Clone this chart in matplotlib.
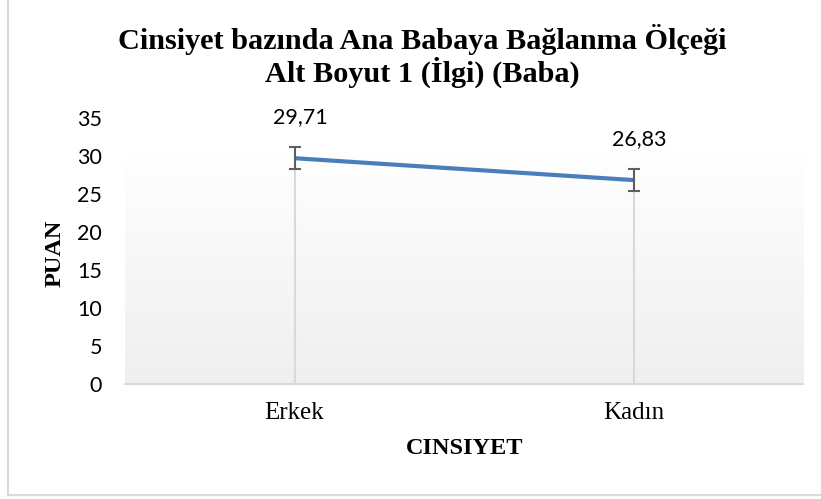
import matplotlib
matplotlib.use("Agg")
import matplotlib.pyplot as plt
import numpy as np
from matplotlib.lines import Line2D
from matplotlib.colors import LinearSegmentedColormap

categories = ["Erkek", "Kadın"]
values = [29.71, 26.83]
errors = [1.45, 1.45]
value_labels = ["29,71", "26,83"]
yticks = [0, 5, 10, 15, 20, 25, 30, 35]

title = "Cinsiyet bazında Ana Babaya Bağlanma Ölçeği\nAlt Boyut 1 (İlgi) (Baba)"

fig = plt.figure(figsize=(8.21, 4.99), dpi=100)
ax = fig.add_axes([125/821, (499-384)/499, (803-125)/821, (384-118)/499])

x = np.arange(len(categories))
ax.set_xlim(-0.5, len(categories) - 0.5)
ax.set_ylim(0, 35)

# gradient background
cmap = LinearSegmentedColormap.from_list("g", ["#efefef", "#ffffff"])
grad = np.linspace(0, 1, 256).reshape(-1, 1)
ax.imshow(grad, aspect="auto", cmap=cmap, origin="lower",
          extent=[-0.5, len(categories) - 0.5, 0, 30.8], zorder=0, vmin=0, vmax=1)

# drop lines
for xi, v in zip(x, values):
    ax.plot([xi, xi], [0, v], color="#d9d9d9", lw=1.5, zorder=1)

ax.plot(x, values, color="#4a7ebb", lw=3, solid_capstyle="butt", zorder=3)
ax.errorbar(x, values, yerr=errors, fmt="none", ecolor="#5f5f5f", elinewidth=1.5,
            capsize=4.5, capthick=1.5, zorder=4)

for xi, v, lab in zip(x, values, value_labels):
    ax.annotate(lab, (xi, v), xytext=(6, 41), textcoords="offset pixels",
                ha="center", va="center", fontsize=15.5, family="Lato", color="#000000")

ax.set_xticks(x)
ax.set_xticklabels(categories, family="Liberation Serif", fontsize=18)
ax.set_yticks(yticks)
ax.set_yticklabels([str(t) for t in yticks], family="Lato", fontsize=15.5)
ax.tick_params(axis="both", length=0)
ax.tick_params(axis="x", pad=13)
ax.tick_params(axis="y", pad=16.5)

for s in ["top", "right", "left"]:
    ax.spines[s].set_visible(False)
ax.spines["bottom"].set_color("#d9d9d9")
ax.spines["bottom"].set_linewidth(1.5)

fig.text(55/821, 1 - 253/499, "PUAN", rotation=90, ha="center", va="center",
         family="Liberation Serif", fontweight="bold", fontsize=17.5)
fig.text(465/821, 1 - 449/499, "CINSIYET", ha="center", va="center",
         family="Liberation Serif", fontweight="bold", fontsize=17.5)
fig.text(422/821, 1 - 56/499, title, ha="center", va="center",
         family="Liberation Serif", fontweight="bold", fontsize=21.8, linespacing=1.05)

# outer chart border (left and bottom visible)
fig.add_artist(Line2D([8/821, 8/821], [4/499, 1], transform=fig.transFigure,
                      color="#d9d9d9", lw=1.5))
fig.add_artist(Line2D([8/821, 1], [4/499, 4/499], transform=fig.transFigure,
                      color="#d9d9d9", lw=1.5))

fig.savefig("out.png", dpi=100)
